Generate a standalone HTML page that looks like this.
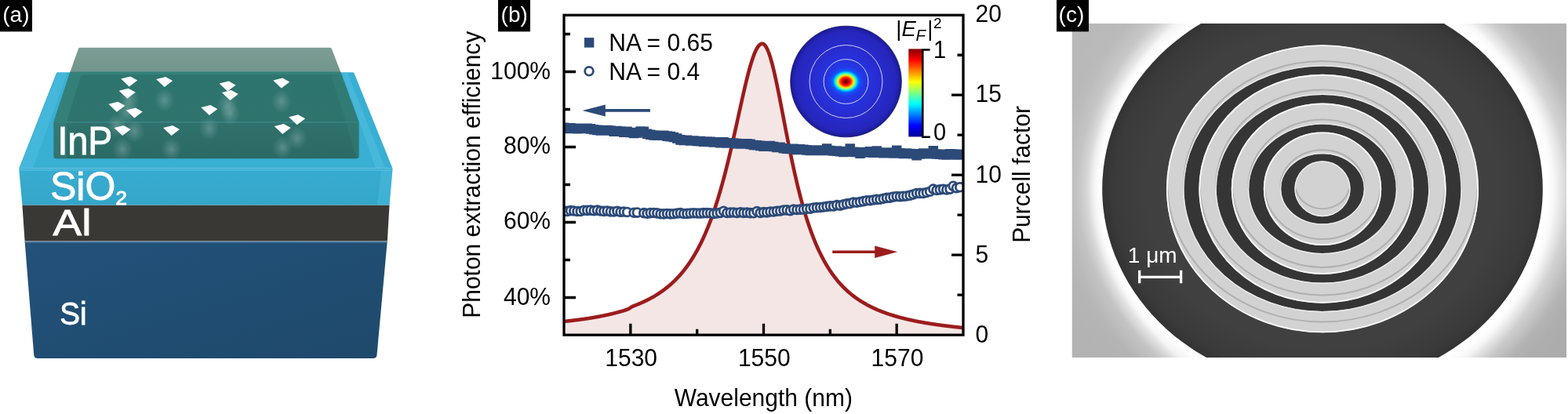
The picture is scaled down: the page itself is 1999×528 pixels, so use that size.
<!DOCTYPE html><html><head><meta charset="utf-8"><title>figure</title><style>
html,body{margin:0;padding:0;background:#fff;width:1999px;height:528px;overflow:hidden}
svg{display:block}
text{font-family:"Liberation Sans",Arial,sans-serif}
</style></head><body>
<svg width="1999" height="528" viewBox="0 0 1999 528">
<defs>
<linearGradient id="jet" x1="0" y1="1" x2="0" y2="0">
<stop offset="0" stop-color="#00008f"/>
<stop offset="0.125" stop-color="#0000ff"/>
<stop offset="0.375" stop-color="#00ffff"/>
<stop offset="0.5" stop-color="#80ff80"/>
<stop offset="0.625" stop-color="#ffff00"/>
<stop offset="0.875" stop-color="#ff0000"/>
<stop offset="1" stop-color="#800000"/>
</linearGradient>
<radialGradient id="spot" gradientUnits="userSpaceOnUse" cx="1078.3" cy="104" r="24" gradientTransform="translate(1078.3 104) scale(1 0.815) translate(-1078.3 -104)">
<stop offset="0" stop-color="#5a0000"/>
<stop offset="0.08" stop-color="#8a0000"/>
<stop offset="0.17" stop-color="#d00000"/>
<stop offset="0.27" stop-color="#ff2000"/>
<stop offset="0.34" stop-color="#ff8000"/>
<stop offset="0.4" stop-color="#ffe000"/>
<stop offset="0.48" stop-color="#90ff70"/>
<stop offset="0.58" stop-color="#00e0ff"/>
<stop offset="0.7" stop-color="#0068ff"/>
<stop offset="0.82" stop-color="#1a4cf4" stop-opacity="0.7"/>
<stop offset="1" stop-color="#2040f0" stop-opacity="0"/>
</radialGradient>
<radialGradient id="fieldbg" gradientUnits="userSpaceOnUse" cx="1078.5" cy="104" r="71">
<stop offset="0" stop-color="#2040f8"/>
<stop offset="0.3" stop-color="#2436e4"/>
<stop offset="0.6" stop-color="#282cd0"/>
<stop offset="0.9" stop-color="#2626bc"/>
<stop offset="1" stop-color="#1a1a94"/>
</radialGradient>
<radialGradient id="halo" gradientUnits="userSpaceOnUse" cx="1686" cy="241" r="360" gradientTransform="translate(1686 241) scale(1 0.9) translate(-1686 -241)">
<stop offset="0.77" stop-color="#ffffff" stop-opacity="1"/>
<stop offset="0.79" stop-color="#ffffff" stop-opacity="0.95"/>
<stop offset="0.83" stop-color="#ffffff" stop-opacity="0.6"/>
<stop offset="0.89" stop-color="#ffffff" stop-opacity="0.22"/>
<stop offset="1" stop-color="#ffffff" stop-opacity="0"/>
</radialGradient>
<filter id="soft" x="-50%" y="-50%" width="200%" height="200%"><feGaussianBlur stdDeviation="4"/></filter>
<filter id="soft1" x="-10%" y="-10%" width="120%" height="120%"><feGaussianBlur stdDeviation="0.6"/></filter>
<radialGradient id="glow" cx="0.5" cy="0.5" r="0.5">
<stop offset="0" stop-color="#ffffff" stop-opacity="0.35"/>
<stop offset="1" stop-color="#ffffff" stop-opacity="0"/>
</radialGradient>
</defs>

<g id="pa">
<defs>
<linearGradient id="gSi" x1="0" y1="0" x2="1" y2="1"><stop offset="0" stop-color="#23517a"/><stop offset="1" stop-color="#1e496b"/></linearGradient>
<linearGradient id="gInPw" x1="0" y1="0" x2="0" y2="1"><stop offset="0" stop-color="#7b9d95"/><stop offset="1" stop-color="#72958c"/></linearGradient>
<linearGradient id="gInPt" x1="0" y1="0" x2="0" y2="1"><stop offset="0" stop-color="#2e756f"/><stop offset="1" stop-color="#2f736d"/></linearGradient>
<linearGradient id="gInPf" x1="0" y1="0" x2="0" y2="1"><stop offset="0" stop-color="#2f716c"/><stop offset="1" stop-color="#2b6a65"/></linearGradient>
<linearGradient id="gSiOf" x1="0" y1="0" x2="0" y2="1"><stop offset="0" stop-color="#38acd0"/><stop offset="1" stop-color="#34a6ca"/></linearGradient>
<radialGradient id="glow2" cx="0.5" cy="0.5" r="0.5"><stop offset="0" stop-color="#ffffff" stop-opacity="0.22"/><stop offset="0.5" stop-color="#ffffff" stop-opacity="0.1"/><stop offset="1" stop-color="#ffffff" stop-opacity="0"/></radialGradient>
</defs>
<path d="M31.6 308 L493.7 308 L480.5 452.5 Q480.1 457.1 475.5 457.1 L48 457.1 Q43.6 457.1 43.2 452.5 Z" fill="url(#gSi)"/>
<path d="M31.7 308.6 H493.6" stroke="#4f81a8" stroke-width="1.6"/>
<path d="M28.4 261.5 L496.5 261.5 L493.8 307.6 L31.6 307.6 Z" fill="#3a3834"/>
<path d="M74 92.2 Q72.3 92.2 71.8 93.6 L24.3 214.5 L500.4 214.5 L451.6 93.6 Q451 92.2 449.4 92.2 Z" fill="#39afd3"/>
<path d="M73 93 L86 93 L42 214.5 L25.5 214.5 Z" fill="#55c2e4" opacity="0.45"/>
<path d="M436 93 L443 93 L491 214.5 L479 214.5 Z" fill="#5cc6e6" opacity="0.4"/>
<path d="M24.3 214.5 L500.4 214.5 L500.4 216.5 L496.5 261.5 L28.4 261.5 L24.3 216.5 Z" fill="url(#gSiOf)"/>
<path d="M25 216.8 H500" stroke="#5dc6e6" stroke-width="1.3" opacity="0.8"/>
<path d="M486 216.5 L500.4 216.5 L496.5 261.5 L481 261.5 Z" fill="#52c0e2" opacity="0.4"/>
<path d="M101.8 60.8 L420.8 60.8 Q422.3 60.8 422.9 62.2 L434 91.3 L89.6 91.3 L99.9 62.2 Q100.4 60.8 101.8 60.8 Z" fill="url(#gInPw)"/>
<path d="M89.6 91.3 L434 91.3 L457.6 155.6 L68.4 155.6 Z" fill="url(#gInPt)"/>
<path d="M89.6 91.3 L434 91.3 L435.6 95.3 L110 95.3 Q103.5 95.3 102.6 98.5 L85 155.6 L68.4 155.6 Z" fill="#3b8a84" opacity="0.55"/>
<path d="M422 96 L435.6 95.3 L457.6 155.6 L441.2 155.6 Z" fill="#3b8a84" opacity="0.3"/>
<path d="M68.4 155.6 L457.6 155.6 L457.6 199 Q457.6 202.3 454.3 202.3 L71.7 202.3 Q68.4 202.3 68.4 199 Z" fill="url(#gInPf)"/>
<path d="M68.8 156.2 H457.2" stroke="#4b9790" stroke-width="1.1" opacity="0.45"/>
<path d="M68.4 156.8 L85 156.8 L85 202.3 L71.7 202.3 Q68.4 202.3 68.4 199 Z" fill="#3b8a84" opacity="0.35"/>
<path d="M441.2 156.8 L457.6 156.8 L457.6 199 Q457.6 202.3 454.3 202.3 L454.3 202.3 Z" fill="#3b8a84" opacity="0.25"/>
<ellipse cx="164.7" cy="127.6" rx="13" ry="15" fill="url(#glow2)"/>
<ellipse cx="209.6" cy="127.9" rx="13" ry="15" fill="url(#glow2)"/>
<ellipse cx="162.2" cy="142.7" rx="13" ry="15" fill="url(#glow2)"/>
<ellipse cx="148.9" cy="159.8" rx="13" ry="15" fill="url(#glow2)"/>
<ellipse cx="171.3" cy="167.4" rx="13" ry="15" fill="url(#glow2)"/>
<ellipse cx="290.1" cy="133.6" rx="13" ry="15" fill="url(#glow2)"/>
<ellipse cx="293.3" cy="145" rx="13" ry="15" fill="url(#glow2)"/>
<ellipse cx="266.8" cy="164" rx="13" ry="15" fill="url(#glow2)"/>
<ellipse cx="156.1" cy="190.1" rx="13" ry="15" fill="url(#glow2)"/>
<ellipse cx="218.5" cy="190.1" rx="13" ry="15" fill="url(#glow2)"/>
<ellipse cx="358.7" cy="129.4" rx="13" ry="15" fill="url(#glow2)"/>
<ellipse cx="378.6" cy="176.2" rx="13" ry="15" fill="url(#glow2)"/>
<ellipse cx="360.2" cy="188.1" rx="13" ry="15" fill="url(#glow2)"/>
<path d="M154.2 100.6 L166.2 97.6 L175.2 102.6 L164.7 110.6 Z" fill="#fff"/>
<path d="M199.1 100.9 L211.1 97.9 L220.1 102.9 L209.6 110.9 Z" fill="#fff"/>
<path d="M151.7 115.7 L163.7 112.7 L172.7 117.7 L162.2 125.7 Z" fill="#fff"/>
<path d="M138.4 132.8 L150.4 129.8 L159.4 134.8 L148.9 142.8 Z" fill="#fff"/>
<path d="M160.8 140.4 L172.8 137.4 L181.8 142.4 L171.3 150.4 Z" fill="#fff"/>
<path d="M279.6 106.6 L291.6 103.6 L300.6 108.6 L290.1 116.6 Z" fill="#fff"/>
<path d="M282.8 118 L294.8 115 L303.8 120 L293.3 128 Z" fill="#fff"/>
<path d="M256.3 137 L268.3 134 L277.3 139 L266.8 147 Z" fill="#fff"/>
<path d="M145.6 163.1 L157.6 160.1 L166.6 165.1 L156.1 173.1 Z" fill="#fff"/>
<path d="M208 163.1 L220 160.1 L229 165.1 L218.5 173.1 Z" fill="#fff"/>
<path d="M348.2 102.4 L360.2 99.4 L369.2 104.4 L358.7 112.4 Z" fill="#fff"/>
<path d="M368.1 149.2 L380.1 146.2 L389.1 151.2 L378.6 159.2 Z" fill="#fff"/>
<path d="M349.7 161.1 L361.7 158.1 L370.7 163.1 L360.2 171.1 Z" fill="#fff"/>
<g fill="#fff" stroke="#fff" stroke-width="0.9">
<text transform="translate(73.6 197.3) scale(0.93 1)" font-size="50">InP</text>
<text transform="translate(64 254.5) scale(1.0 1)" font-size="50">SiO</text>
<text transform="translate(147.6 261.4) scale(1.08 1)" font-size="24">2</text>
<text transform="translate(67.6 300) scale(1.17 1)" font-size="47">Al</text>
<text transform="translate(76.2 413.6) scale(0.93 1)" font-size="41.5">Si</text>
</g>
<rect x="0" y="0" width="41" height="40.3" fill="#000"/>
<text x="3.3" y="28" font-size="28" fill="#fff">(a)</text>
</g>
<g id="pb">
<clipPath id="plotclip"><rect x="719" y="19.3" width="509" height="407.7"/></clipPath>
<g clip-path="url(#plotclip)">
<path d="M719 409.97 L719.42 409.92 L719.85 409.88 L720.27 409.84 L720.7 409.79 L721.12 409.75 L721.54 409.7 L721.97 409.66 L722.39 409.61 L722.82 409.57 L723.24 409.52 L723.67 409.47 L724.09 409.43 L724.51 409.38 L724.94 409.33 L725.36 409.29 L725.79 409.24 L726.21 409.19 L726.64 409.14 L727.06 409.1 L727.48 409.05 L727.91 409 L728.33 408.95 L728.76 408.9 L729.18 408.85 L729.6 408.8 L730.03 408.75 L730.45 408.7 L730.88 408.65 L731.3 408.6 L731.73 408.55 L732.15 408.5 L732.57 408.44 L733 408.39 L733.42 408.34 L733.85 408.29 L734.27 408.23 L734.69 408.18 L735.12 408.13 L735.54 408.07 L735.97 408.02 L736.39 407.96 L736.81 407.91 L737.24 407.85 L737.66 407.8 L738.09 407.74 L738.51 407.69 L738.94 407.63 L739.36 407.57 L739.78 407.52 L740.21 407.46 L740.63 407.4 L741.06 407.34 L741.48 407.28 L741.91 407.23 L742.33 407.17 L742.75 407.11 L743.18 407.05 L743.6 406.99 L744.03 406.93 L744.45 406.87 L744.87 406.8 L745.3 406.74 L745.72 406.68 L746.15 406.62 L746.57 406.56 L746.99 406.49 L747.42 406.43 L747.84 406.37 L748.27 406.3 L748.69 406.24 L749.12 406.17 L749.54 406.11 L749.96 406.04 L750.39 405.98 L750.81 405.91 L751.24 405.84 L751.66 405.78 L752.09 405.71 L752.51 405.64 L752.93 405.57 L753.36 405.5 L753.78 405.43 L754.21 405.36 L754.63 405.29 L755.05 405.22 L755.48 405.15 L755.9 405.08 L756.33 405.01 L756.75 404.94 L757.17 404.87 L757.6 404.79 L758.02 404.72 L758.45 404.64 L758.87 404.57 L759.3 404.5 L759.72 404.42 L760.14 404.34 L760.57 404.27 L760.99 404.19 L761.42 404.12 L761.84 404.04 L762.26 403.96 L762.69 403.88 L763.11 403.8 L763.54 403.72 L763.96 403.64 L764.39 403.56 L764.81 403.48 L765.23 403.4 L765.66 403.32 L766.08 403.24 L766.51 403.15 L766.93 403.07 L767.36 402.99 L767.78 402.9 L768.2 402.82 L768.63 402.73 L769.05 402.65 L769.48 402.56 L769.9 402.47 L770.32 402.38 L770.75 402.3 L771.17 402.21 L771.6 402.12 L772.02 402.03 L772.44 401.94 L772.87 401.85 L773.29 401.76 L773.72 401.66 L774.14 401.57 L774.57 401.48 L774.99 401.38 L775.41 401.29 L775.84 401.19 L776.26 401.1 L776.69 401 L777.11 400.91 L777.54 400.81 L777.96 400.71 L778.38 400.61 L778.81 400.51 L779.23 400.41 L779.66 400.31 L780.08 400.21 L780.5 400.11 L780.93 400.01 L781.35 399.9 L781.78 399.8 L782.2 399.69 L782.62 399.59 L783.05 399.48 L783.47 399.38 L783.9 399.27 L784.32 399.16 L784.75 399.05 L785.17 398.94 L785.59 398.83 L786.02 398.72 L786.44 398.61 L786.87 398.5 L787.29 398.39 L787.71 398.27 L788.14 398.16 L788.56 398.04 L788.99 397.93 L789.41 397.81 L789.84 397.69 L790.26 397.57 L790.68 397.45 L791.11 397.33 L791.53 397.21 L791.96 397.09 L792.38 396.97 L792.81 396.85 L793.23 396.72 L793.65 396.6 L794.08 396.47 L794.5 396.34 L794.93 396.22 L795.35 396.09 L795.77 395.96 L796.2 395.82 L796.62 395.69 L797.05 395.56 L797.47 395.42 L797.89 395.28 L798.32 395.14 L798.74 394.99 L799.17 394.84 L799.59 394.68 L800.02 394.51 L800.44 394.33 L800.86 394.14 L801.29 393.93 L801.71 393.7 L802.14 393.45 L802.56 393.18 L802.99 392.9 L803.41 392.61 L803.83 392.32 L804.26 392.04 L804.68 391.77 L805.11 391.52 L805.53 391.28 L805.95 391.06 L806.38 390.85 L806.8 390.66 L807.23 390.47 L807.65 390.29 L808.08 390.12 L808.5 389.95 L808.92 389.78 L809.35 389.61 L809.77 389.44 L810.2 389.28 L810.62 389.11 L811.04 388.94 L811.47 388.77 L811.89 388.61 L812.32 388.44 L812.74 388.26 L813.16 388.09 L813.59 387.92 L814.01 387.74 L814.44 387.57 L814.86 387.39 L815.29 387.21 L815.71 387.03 L816.13 386.85 L816.56 386.67 L816.98 386.49 L817.41 386.3 L817.83 386.12 L818.26 385.93 L818.68 385.74 L819.1 385.55 L819.53 385.36 L819.95 385.17 L820.38 384.97 L820.8 384.78 L821.22 384.58 L821.65 384.38 L822.07 384.18 L822.5 383.98 L822.92 383.78 L823.34 383.57 L823.77 383.36 L824.19 383.16 L824.62 382.95 L825.04 382.74 L825.47 382.52 L825.89 382.31 L826.31 382.09 L826.74 381.87 L827.16 381.66 L827.59 381.43 L828.01 381.21 L828.44 380.99 L828.86 380.76 L829.28 380.53 L829.71 380.3 L830.13 380.07 L830.56 379.84 L830.98 379.6 L831.4 379.37 L831.83 379.13 L832.25 378.89 L832.68 378.65 L833.1 378.4 L833.52 378.16 L833.95 377.91 L834.37 377.66 L834.8 377.41 L835.22 377.15 L835.65 376.9 L836.07 376.64 L836.49 376.38 L836.92 376.11 L837.34 375.85 L837.77 375.58 L838.19 375.32 L838.61 375.04 L839.04 374.77 L839.46 374.5 L839.89 374.22 L840.31 373.94 L840.74 373.66 L841.16 373.37 L841.58 373.09 L842.01 372.8 L842.43 372.51 L842.86 372.21 L843.28 371.92 L843.71 371.62 L844.13 371.32 L844.55 371.02 L844.98 370.71 L845.4 370.4 L845.83 370.09 L846.25 369.78 L846.67 369.46 L847.1 369.14 L847.52 368.82 L847.95 368.5 L848.37 368.17 L848.79 367.84 L849.22 367.51 L849.64 367.18 L850.07 366.84 L850.49 366.5 L850.92 366.15 L851.34 365.81 L851.76 365.46 L852.19 365.11 L852.61 364.75 L853.04 364.39 L853.46 364.03 L853.89 363.67 L854.31 363.3 L854.73 362.93 L855.16 362.56 L855.58 362.18 L856.01 361.8 L856.43 361.41 L856.85 361.03 L857.28 360.64 L857.7 360.24 L858.13 359.85 L858.55 359.45 L858.98 359.04 L859.4 358.63 L859.82 358.22 L860.25 357.81 L860.67 357.39 L861.1 356.97 L861.52 356.54 L861.94 356.11 L862.37 355.68 L862.79 355.24 L863.22 354.8 L863.64 354.36 L864.06 353.91 L864.49 353.45 L864.91 353 L865.34 352.54 L865.76 352.07 L866.19 351.6 L866.61 351.13 L867.03 350.65 L867.46 350.17 L867.88 349.68 L868.31 349.19 L868.73 348.7 L869.16 348.2 L869.58 347.69 L870 347.18 L870.43 346.67 L870.85 346.15 L871.28 345.63 L871.7 345.1 L872.12 344.57 L872.55 344.03 L872.97 343.49 L873.4 342.94 L873.82 342.39 L874.24 341.83 L874.67 341.27 L875.09 340.7 L875.52 340.12 L875.94 339.55 L876.37 338.96 L876.79 338.37 L877.21 337.78 L877.64 337.18 L878.06 336.57 L878.49 335.96 L878.91 335.34 L879.34 334.72 L879.76 334.09 L880.18 333.45 L880.61 332.81 L881.03 332.17 L881.46 331.51 L881.88 330.85 L882.3 330.19 L882.73 329.52 L883.15 328.84 L883.58 328.15 L884 327.46 L884.42 326.76 L884.85 326.06 L885.27 325.35 L885.7 324.63 L886.12 323.91 L886.55 323.18 L886.97 322.44 L887.39 321.69 L887.82 320.94 L888.24 320.18 L888.67 319.41 L889.09 318.64 L889.51 317.86 L889.94 317.07 L890.36 316.27 L890.79 315.47 L891.21 314.65 L891.64 313.83 L892.06 313.01 L892.48 312.17 L892.91 311.33 L893.33 310.48 L893.76 309.62 L894.18 308.75 L894.61 307.87 L895.03 306.99 L895.45 306.09 L895.88 305.19 L896.3 304.28 L896.73 303.36 L897.15 302.43 L897.57 301.5 L898 300.55 L898.42 299.59 L898.85 298.63 L899.27 297.66 L899.69 296.67 L900.12 295.68 L900.54 294.68 L900.97 293.67 L901.39 292.65 L901.82 291.62 L902.24 290.58 L902.66 289.53 L903.09 288.47 L903.51 287.4 L903.94 286.32 L904.36 285.23 L904.79 284.13 L905.21 283.02 L905.63 281.89 L906.06 280.76 L906.48 279.62 L906.91 278.47 L907.33 277.3 L907.75 276.13 L908.18 274.94 L908.6 273.75 L909.03 272.54 L909.45 271.32 L909.88 270.09 L910.3 268.85 L910.72 267.6 L911.15 266.34 L911.57 265.06 L912 263.78 L912.42 262.48 L912.84 261.17 L913.27 259.85 L913.69 258.52 L914.12 257.17 L914.54 255.82 L914.96 254.45 L915.39 253.07 L915.81 251.68 L916.24 250.28 L916.66 248.86 L917.09 247.44 L917.51 246 L917.93 244.55 L918.36 243.08 L918.78 241.61 L919.21 240.12 L919.63 238.62 L920.06 237.11 L920.48 235.59 L920.9 234.06 L921.33 232.51 L921.75 230.95 L922.18 229.38 L922.6 227.8 L923.02 226.21 L923.45 224.6 L923.87 222.98 L924.3 221.35 L924.72 219.71 L925.14 218.06 L925.57 216.4 L925.99 214.72 L926.42 213.04 L926.84 211.34 L927.27 209.63 L927.69 207.91 L928.11 206.18 L928.54 204.44 L928.96 202.69 L929.39 200.93 L929.81 199.16 L930.24 197.38 L930.66 195.59 L931.08 193.78 L931.51 191.98 L931.93 190.16 L932.36 188.33 L932.78 186.49 L933.2 184.65 L933.63 182.8 L934.05 180.94 L934.48 179.07 L934.9 177.19 L935.33 175.31 L935.75 173.42 L936.17 171.53 L936.6 169.63 L937.02 167.73 L937.45 165.82 L937.87 163.9 L938.29 161.98 L938.72 160.06 L939.14 158.14 L939.57 156.21 L939.99 154.28 L940.41 152.35 L940.84 150.41 L941.26 148.48 L941.69 146.55 L942.11 144.61 L942.54 142.68 L942.96 140.75 L943.38 138.82 L943.81 136.9 L944.23 134.98 L944.66 133.06 L945.08 131.15 L945.51 129.24 L945.93 127.34 L946.35 125.45 L946.78 123.56 L947.2 121.68 L947.63 119.81 L948.05 117.96 L948.47 116.11 L948.9 114.27 L949.32 112.45 L949.75 110.64 L950.17 108.85 L950.59 107.07 L951.02 105.3 L951.44 103.55 L951.87 101.82 L952.29 100.11 L952.72 98.42 L953.14 96.74 L953.56 95.09 L953.99 93.46 L954.41 91.86 L954.84 90.27 L955.26 88.72 L955.69 87.18 L956.11 85.68 L956.53 84.2 L956.96 82.75 L957.38 81.33 L957.81 79.93 L958.23 78.57 L958.65 77.24 L959.08 75.95 L959.5 74.69 L959.93 73.46 L960.35 72.26 L960.77 71.11 L961.2 69.99 L961.62 68.9 L962.05 67.86 L962.47 66.85 L962.9 65.88 L963.32 64.96 L963.74 64.07 L964.17 63.23 L964.59 62.43 L965.02 61.67 L965.44 60.96 L965.86 60.28 L966.29 59.66 L966.71 59.08 L967.14 58.54 L967.56 58.05 L967.99 57.61 L968.41 57.21 L968.83 56.86 L969.26 56.55 L969.68 56.3 L970.11 56.09 L970.53 55.93 L970.96 55.81 L971.38 55.75 L971.8 55.73 L972.23 55.77 L972.65 55.87 L973.08 56.03 L973.5 56.26 L973.92 56.54 L974.35 56.89 L974.77 57.3 L975.2 57.77 L975.62 58.3 L976.04 58.89 L976.47 59.53 L976.89 60.24 L977.32 61 L977.74 61.83 L978.17 62.7 L978.59 63.64 L979.01 64.63 L979.44 65.67 L979.86 66.76 L980.29 67.91 L980.71 69.11 L981.14 70.35 L981.56 71.65 L981.98 72.99 L982.41 74.38 L982.83 75.81 L983.26 77.29 L983.68 78.81 L984.1 80.37 L984.53 81.97 L984.95 83.61 L985.38 85.29 L985.8 87 L986.23 88.75 L986.65 90.53 L987.07 92.35 L987.5 94.19 L987.92 96.06 L988.35 97.96 L988.77 99.89 L989.19 101.85 L989.62 103.83 L990.04 105.83 L990.47 107.85 L990.89 109.89 L991.31 111.95 L991.74 114.03 L992.16 116.13 L992.59 118.24 L993.01 120.37 L993.44 122.51 L993.86 124.66 L994.28 126.82 L994.71 128.99 L995.13 131.17 L995.56 133.36 L995.98 135.55 L996.41 137.75 L996.83 139.96 L997.25 142.16 L997.68 144.37 L998.1 146.59 L998.53 148.8 L998.95 151.01 L999.37 153.22 L999.8 155.44 L1000.22 157.64 L1000.65 159.85 L1001.07 162.05 L1001.49 164.25 L1001.92 166.44 L1002.34 168.62 L1002.77 170.8 L1003.19 172.98 L1003.62 175.14 L1004.04 177.3 L1004.46 179.45 L1004.89 181.59 L1005.31 183.72 L1005.74 185.84 L1006.16 187.94 L1006.59 190.04 L1007.01 192.13 L1007.43 194.2 L1007.86 196.27 L1008.28 198.32 L1008.71 200.36 L1009.13 202.38 L1009.55 204.4 L1009.98 206.39 L1010.4 208.38 L1010.83 210.35 L1011.25 212.31 L1011.67 214.25 L1012.1 216.18 L1012.52 218.1 L1012.95 220 L1013.37 221.88 L1013.8 223.75 L1014.22 225.6 L1014.64 227.44 L1015.07 229.27 L1015.49 231.08 L1015.92 232.87 L1016.34 234.65 L1016.76 236.41 L1017.19 238.16 L1017.61 239.89 L1018.04 241.6 L1018.46 243.3 L1018.89 244.99 L1019.31 246.66 L1019.73 248.31 L1020.16 249.95 L1020.58 251.57 L1021.01 253.18 L1021.43 254.77 L1021.86 256.35 L1022.28 257.91 L1022.7 259.46 L1023.13 260.99 L1023.55 262.5 L1023.98 264 L1024.4 265.49 L1024.82 266.96 L1025.25 268.41 L1025.67 269.86 L1026.1 271.28 L1026.52 272.69 L1026.94 274.09 L1027.37 275.48 L1027.79 276.84 L1028.22 278.2 L1028.64 279.54 L1029.07 280.87 L1029.49 282.18 L1029.91 283.48 L1030.34 284.77 L1030.76 286.04 L1031.19 287.3 L1031.61 288.54 L1032.04 289.78 L1032.46 291 L1032.88 292.2 L1033.31 293.4 L1033.73 294.58 L1034.16 295.75 L1034.58 296.9 L1035 298.05 L1035.43 299.18 L1035.85 300.3 L1036.28 301.41 L1036.7 302.5 L1037.12 303.59 L1037.55 304.66 L1037.97 305.72 L1038.4 306.77 L1038.82 307.81 L1039.25 308.84 L1039.67 309.85 L1040.09 310.86 L1040.52 311.86 L1040.94 312.84 L1041.37 313.81 L1041.79 314.78 L1042.21 315.73 L1042.64 316.67 L1043.06 317.61 L1043.49 318.53 L1043.91 319.44 L1044.34 320.35 L1044.76 321.24 L1045.18 322.12 L1045.61 323 L1046.03 323.86 L1046.46 324.72 L1046.88 325.57 L1047.31 326.41 L1047.73 327.24 L1048.15 328.06 L1048.58 328.87 L1049 329.67 L1049.43 330.47 L1049.85 331.25 L1050.27 332.03 L1050.7 332.8 L1051.12 333.56 L1051.55 334.32 L1051.97 335.06 L1052.39 335.8 L1052.82 336.53 L1053.24 337.25 L1053.67 337.97 L1054.09 338.68 L1054.52 339.38 L1054.94 340.07 L1055.36 340.76 L1055.79 341.44 L1056.21 342.11 L1056.64 342.77 L1057.06 343.43 L1057.49 344.08 L1057.91 344.73 L1058.33 345.37 L1058.76 346 L1059.18 346.63 L1059.61 347.24 L1060.03 347.86 L1060.45 348.46 L1060.88 349.06 L1061.3 349.66 L1061.73 350.25 L1062.15 350.83 L1062.58 351.41 L1063 351.98 L1063.42 352.54 L1063.85 353.1 L1064.27 353.65 L1064.7 354.2 L1065.12 354.75 L1065.54 355.28 L1065.97 355.81 L1066.39 356.34 L1066.82 356.86 L1067.24 357.38 L1067.66 357.89 L1068.09 358.4 L1068.51 358.9 L1068.94 359.4 L1069.36 359.89 L1069.79 360.38 L1070.21 360.86 L1070.63 361.34 L1071.06 361.81 L1071.48 362.28 L1071.91 362.74 L1072.33 363.2 L1072.76 363.66 L1073.18 364.11 L1073.6 364.55 L1074.03 365 L1074.45 365.43 L1074.88 365.87 L1075.3 366.3 L1075.72 366.72 L1076.15 367.15 L1076.57 367.56 L1077 367.98 L1077.42 368.39 L1077.84 368.79 L1078.27 369.2 L1078.69 369.59 L1079.12 369.99 L1079.54 370.38 L1079.97 370.77 L1080.39 371.15 L1080.81 371.53 L1081.24 371.91 L1081.66 372.29 L1082.09 372.66 L1082.51 373.02 L1082.94 373.39 L1083.36 373.75 L1083.78 374.1 L1084.21 374.46 L1084.63 374.81 L1085.06 375.16 L1085.48 375.5 L1085.9 375.84 L1086.33 376.18 L1086.75 376.52 L1087.18 376.85 L1087.6 377.18 L1088.03 377.5 L1088.45 377.83 L1088.87 378.15 L1089.3 378.47 L1089.72 378.78 L1090.15 379.1 L1090.57 379.41 L1090.99 379.71 L1091.42 380.02 L1091.84 380.32 L1092.27 380.62 L1092.69 380.92 L1093.11 381.21 L1093.54 381.5 L1093.96 381.79 L1094.39 382.08 L1094.81 382.36 L1095.24 382.64 L1095.66 382.92 L1096.08 383.2 L1096.51 383.47 L1096.93 383.75 L1097.36 384.02 L1097.78 384.29 L1098.21 384.55 L1098.63 384.81 L1099.05 385.08 L1099.48 385.33 L1099.9 385.59 L1100.33 385.85 L1100.75 386.1 L1101.17 386.35 L1101.6 386.6 L1102.02 386.85 L1102.45 387.09 L1102.87 387.33 L1103.29 387.57 L1103.72 387.81 L1104.14 388.05 L1104.57 388.28 L1104.99 388.52 L1105.42 388.75 L1105.84 388.98 L1106.26 389.21 L1106.69 389.43 L1107.11 389.66 L1107.54 389.88 L1107.96 390.1 L1108.39 390.32 L1108.81 390.53 L1109.23 390.75 L1109.66 390.96 L1110.08 391.17 L1110.51 391.38 L1110.93 391.59 L1111.35 391.8 L1111.78 392.01 L1112.2 392.21 L1112.63 392.41 L1113.05 392.61 L1113.47 392.81 L1113.9 393.01 L1114.32 393.21 L1114.75 393.4 L1115.17 393.59 L1115.6 393.78 L1116.02 393.97 L1116.44 394.16 L1116.87 394.35 L1117.29 394.54 L1117.72 394.72 L1118.14 394.9 L1118.56 395.09 L1118.99 395.27 L1119.41 395.45 L1119.84 395.62 L1120.26 395.8 L1120.69 395.98 L1121.11 396.15 L1121.53 396.32 L1121.96 396.49 L1122.38 396.66 L1122.81 396.83 L1123.23 397 L1123.66 397.17 L1124.08 397.33 L1124.5 397.5 L1124.93 397.66 L1125.35 397.82 L1125.78 397.98 L1126.2 398.14 L1126.62 398.3 L1127.05 398.46 L1127.47 398.61 L1127.9 398.77 L1128.32 398.92 L1128.74 399.07 L1129.17 399.23 L1129.59 399.38 L1130.02 399.53 L1130.44 399.68 L1130.87 399.82 L1131.29 399.97 L1131.71 400.11 L1132.14 400.26 L1132.56 400.4 L1132.99 400.55 L1133.41 400.69 L1133.84 400.83 L1134.26 400.97 L1134.68 401.11 L1135.11 401.24 L1135.53 401.38 L1135.96 401.52 L1136.38 401.65 L1136.8 401.78 L1137.23 401.92 L1137.65 402.05 L1138.08 402.18 L1138.5 402.31 L1138.92 402.44 L1139.35 402.57 L1139.77 402.7 L1140.2 402.82 L1140.62 402.95 L1141.05 403.08 L1141.47 403.2 L1141.89 403.32 L1142.32 403.45 L1142.74 403.57 L1143.17 403.69 L1143.59 403.81 L1144.01 403.93 L1144.44 404.05 L1144.86 404.17 L1145.29 404.28 L1145.71 404.4 L1146.14 404.52 L1146.56 404.63 L1146.98 404.75 L1147.41 404.86 L1147.83 404.97 L1148.26 405.09 L1148.68 405.2 L1149.11 405.31 L1149.53 405.42 L1149.95 405.53 L1150.38 405.64 L1150.8 405.74 L1151.23 405.85 L1151.65 405.96 L1152.07 406.06 L1152.5 406.17 L1152.92 406.27 L1153.35 406.38 L1153.77 406.48 L1154.19 406.58 L1154.62 406.69 L1155.04 406.79 L1155.47 406.89 L1155.89 406.99 L1156.32 407.09 L1156.74 407.19 L1157.16 407.29 L1157.59 407.38 L1158.01 407.48 L1158.44 407.58 L1158.86 407.67 L1159.29 407.77 L1159.71 407.86 L1160.13 407.96 L1160.56 408.05 L1160.98 408.14 L1161.41 408.24 L1161.83 408.33 L1162.25 408.42 L1162.68 408.51 L1163.1 408.6 L1163.53 408.69 L1163.95 408.78 L1164.38 408.87 L1164.8 408.96 L1165.22 409.05 L1165.65 409.13 L1166.07 409.22 L1166.5 409.31 L1166.92 409.39 L1167.34 409.48 L1167.77 409.56 L1168.19 409.65 L1168.62 409.73 L1169.04 409.82 L1169.46 409.9 L1169.89 409.98 L1170.31 410.06 L1170.74 410.14 L1171.16 410.23 L1171.59 410.31 L1172.01 410.39 L1172.43 410.47 L1172.86 410.55 L1173.28 410.62 L1173.71 410.7 L1174.13 410.78 L1174.56 410.86 L1174.98 410.93 L1175.4 411.01 L1175.83 411.09 L1176.25 411.16 L1176.68 411.24 L1177.1 411.31 L1177.52 411.39 L1177.95 411.46 L1178.37 411.54 L1178.8 411.61 L1179.22 411.68 L1179.64 411.75 L1180.07 411.83 L1180.49 411.9 L1180.92 411.97 L1181.34 412.04 L1181.77 412.11 L1182.19 412.18 L1182.61 412.25 L1183.04 412.32 L1183.46 412.39 L1183.89 412.46 L1184.31 412.53 L1184.74 412.59 L1185.16 412.66 L1185.58 412.73 L1186.01 412.8 L1186.43 412.86 L1186.86 412.93 L1187.28 412.99 L1187.7 413.06 L1188.13 413.13 L1188.55 413.19 L1188.98 413.25 L1189.4 413.32 L1189.83 413.38 L1190.25 413.45 L1190.67 413.51 L1191.1 413.57 L1191.52 413.63 L1191.95 413.7 L1192.37 413.76 L1192.79 413.82 L1193.22 413.88 L1193.64 413.94 L1194.07 414 L1194.49 414.06 L1194.91 414.12 L1195.34 414.18 L1195.76 414.24 L1196.19 414.3 L1196.61 414.36 L1197.04 414.42 L1197.46 414.48 L1197.88 414.53 L1198.31 414.59 L1198.73 414.65 L1199.16 414.71 L1199.58 414.76 L1200.01 414.82 L1200.43 414.88 L1200.85 414.93 L1201.28 414.99 L1201.7 415.04 L1202.13 415.1 L1202.55 415.15 L1202.97 415.21 L1203.4 415.26 L1203.82 415.31 L1204.25 415.37 L1204.67 415.42 L1205.09 415.48 L1205.52 415.53 L1205.94 415.58 L1206.37 415.63 L1206.79 415.69 L1207.22 415.74 L1207.64 415.79 L1208.06 415.84 L1208.49 415.89 L1208.91 415.94 L1209.34 415.99 L1209.76 416.04 L1210.19 416.09 L1210.61 416.14 L1211.03 416.19 L1211.46 416.24 L1211.88 416.29 L1212.31 416.34 L1212.73 416.39 L1213.15 416.44 L1213.58 416.49 L1214 416.54 L1214.43 416.58 L1214.85 416.63 L1215.28 416.68 L1215.7 416.73 L1216.12 416.77 L1216.55 416.82 L1216.97 416.87 L1217.4 416.91 L1217.82 416.96 L1218.24 417.01 L1218.67 417.05 L1219.09 417.1 L1219.52 417.14 L1219.94 417.19 L1220.36 417.23 L1220.79 417.28 L1221.21 417.32 L1221.64 417.37 L1222.06 417.41 L1222.49 417.45 L1222.91 417.5 L1223.33 417.54 L1223.76 417.58 L1224.18 417.63 L1224.61 417.67 L1225.03 417.71 L1225.46 417.76 L1225.88 417.8 L1226.3 417.84 L1226.73 417.88 L1227.15 417.92 L1227.58 417.97 L1228 418.01 L1228 427 L719 427 Z" fill="#f5e6e6"/>
<path d="M719 409.97 L719.42 409.92 L719.85 409.88 L720.27 409.84 L720.7 409.79 L721.12 409.75 L721.54 409.7 L721.97 409.66 L722.39 409.61 L722.82 409.57 L723.24 409.52 L723.67 409.47 L724.09 409.43 L724.51 409.38 L724.94 409.33 L725.36 409.29 L725.79 409.24 L726.21 409.19 L726.64 409.14 L727.06 409.1 L727.48 409.05 L727.91 409 L728.33 408.95 L728.76 408.9 L729.18 408.85 L729.6 408.8 L730.03 408.75 L730.45 408.7 L730.88 408.65 L731.3 408.6 L731.73 408.55 L732.15 408.5 L732.57 408.44 L733 408.39 L733.42 408.34 L733.85 408.29 L734.27 408.23 L734.69 408.18 L735.12 408.13 L735.54 408.07 L735.97 408.02 L736.39 407.96 L736.81 407.91 L737.24 407.85 L737.66 407.8 L738.09 407.74 L738.51 407.69 L738.94 407.63 L739.36 407.57 L739.78 407.52 L740.21 407.46 L740.63 407.4 L741.06 407.34 L741.48 407.28 L741.91 407.23 L742.33 407.17 L742.75 407.11 L743.18 407.05 L743.6 406.99 L744.03 406.93 L744.45 406.87 L744.87 406.8 L745.3 406.74 L745.72 406.68 L746.15 406.62 L746.57 406.56 L746.99 406.49 L747.42 406.43 L747.84 406.37 L748.27 406.3 L748.69 406.24 L749.12 406.17 L749.54 406.11 L749.96 406.04 L750.39 405.98 L750.81 405.91 L751.24 405.84 L751.66 405.78 L752.09 405.71 L752.51 405.64 L752.93 405.57 L753.36 405.5 L753.78 405.43 L754.21 405.36 L754.63 405.29 L755.05 405.22 L755.48 405.15 L755.9 405.08 L756.33 405.01 L756.75 404.94 L757.17 404.87 L757.6 404.79 L758.02 404.72 L758.45 404.64 L758.87 404.57 L759.3 404.5 L759.72 404.42 L760.14 404.34 L760.57 404.27 L760.99 404.19 L761.42 404.12 L761.84 404.04 L762.26 403.96 L762.69 403.88 L763.11 403.8 L763.54 403.72 L763.96 403.64 L764.39 403.56 L764.81 403.48 L765.23 403.4 L765.66 403.32 L766.08 403.24 L766.51 403.15 L766.93 403.07 L767.36 402.99 L767.78 402.9 L768.2 402.82 L768.63 402.73 L769.05 402.65 L769.48 402.56 L769.9 402.47 L770.32 402.38 L770.75 402.3 L771.17 402.21 L771.6 402.12 L772.02 402.03 L772.44 401.94 L772.87 401.85 L773.29 401.76 L773.72 401.66 L774.14 401.57 L774.57 401.48 L774.99 401.38 L775.41 401.29 L775.84 401.19 L776.26 401.1 L776.69 401 L777.11 400.91 L777.54 400.81 L777.96 400.71 L778.38 400.61 L778.81 400.51 L779.23 400.41 L779.66 400.31 L780.08 400.21 L780.5 400.11 L780.93 400.01 L781.35 399.9 L781.78 399.8 L782.2 399.69 L782.62 399.59 L783.05 399.48 L783.47 399.38 L783.9 399.27 L784.32 399.16 L784.75 399.05 L785.17 398.94 L785.59 398.83 L786.02 398.72 L786.44 398.61 L786.87 398.5 L787.29 398.39 L787.71 398.27 L788.14 398.16 L788.56 398.04 L788.99 397.93 L789.41 397.81 L789.84 397.69 L790.26 397.57 L790.68 397.45 L791.11 397.33 L791.53 397.21 L791.96 397.09 L792.38 396.97 L792.81 396.85 L793.23 396.72 L793.65 396.6 L794.08 396.47 L794.5 396.34 L794.93 396.22 L795.35 396.09 L795.77 395.96 L796.2 395.82 L796.62 395.69 L797.05 395.56 L797.47 395.42 L797.89 395.28 L798.32 395.14 L798.74 394.99 L799.17 394.84 L799.59 394.68 L800.02 394.51 L800.44 394.33 L800.86 394.14 L801.29 393.93 L801.71 393.7 L802.14 393.45 L802.56 393.18 L802.99 392.9 L803.41 392.61 L803.83 392.32 L804.26 392.04 L804.68 391.77 L805.11 391.52 L805.53 391.28 L805.95 391.06 L806.38 390.85 L806.8 390.66 L807.23 390.47 L807.65 390.29 L808.08 390.12 L808.5 389.95 L808.92 389.78 L809.35 389.61 L809.77 389.44 L810.2 389.28 L810.62 389.11 L811.04 388.94 L811.47 388.77 L811.89 388.61 L812.32 388.44 L812.74 388.26 L813.16 388.09 L813.59 387.92 L814.01 387.74 L814.44 387.57 L814.86 387.39 L815.29 387.21 L815.71 387.03 L816.13 386.85 L816.56 386.67 L816.98 386.49 L817.41 386.3 L817.83 386.12 L818.26 385.93 L818.68 385.74 L819.1 385.55 L819.53 385.36 L819.95 385.17 L820.38 384.97 L820.8 384.78 L821.22 384.58 L821.65 384.38 L822.07 384.18 L822.5 383.98 L822.92 383.78 L823.34 383.57 L823.77 383.36 L824.19 383.16 L824.62 382.95 L825.04 382.74 L825.47 382.52 L825.89 382.31 L826.31 382.09 L826.74 381.87 L827.16 381.66 L827.59 381.43 L828.01 381.21 L828.44 380.99 L828.86 380.76 L829.28 380.53 L829.71 380.3 L830.13 380.07 L830.56 379.84 L830.98 379.6 L831.4 379.37 L831.83 379.13 L832.25 378.89 L832.68 378.65 L833.1 378.4 L833.52 378.16 L833.95 377.91 L834.37 377.66 L834.8 377.41 L835.22 377.15 L835.65 376.9 L836.07 376.64 L836.49 376.38 L836.92 376.11 L837.34 375.85 L837.77 375.58 L838.19 375.32 L838.61 375.04 L839.04 374.77 L839.46 374.5 L839.89 374.22 L840.31 373.94 L840.74 373.66 L841.16 373.37 L841.58 373.09 L842.01 372.8 L842.43 372.51 L842.86 372.21 L843.28 371.92 L843.71 371.62 L844.13 371.32 L844.55 371.02 L844.98 370.71 L845.4 370.4 L845.83 370.09 L846.25 369.78 L846.67 369.46 L847.1 369.14 L847.52 368.82 L847.95 368.5 L848.37 368.17 L848.79 367.84 L849.22 367.51 L849.64 367.18 L850.07 366.84 L850.49 366.5 L850.92 366.15 L851.34 365.81 L851.76 365.46 L852.19 365.11 L852.61 364.75 L853.04 364.39 L853.46 364.03 L853.89 363.67 L854.31 363.3 L854.73 362.93 L855.16 362.56 L855.58 362.18 L856.01 361.8 L856.43 361.41 L856.85 361.03 L857.28 360.64 L857.7 360.24 L858.13 359.85 L858.55 359.45 L858.98 359.04 L859.4 358.63 L859.82 358.22 L860.25 357.81 L860.67 357.39 L861.1 356.97 L861.52 356.54 L861.94 356.11 L862.37 355.68 L862.79 355.24 L863.22 354.8 L863.64 354.36 L864.06 353.91 L864.49 353.45 L864.91 353 L865.34 352.54 L865.76 352.07 L866.19 351.6 L866.61 351.13 L867.03 350.65 L867.46 350.17 L867.88 349.68 L868.31 349.19 L868.73 348.7 L869.16 348.2 L869.58 347.69 L870 347.18 L870.43 346.67 L870.85 346.15 L871.28 345.63 L871.7 345.1 L872.12 344.57 L872.55 344.03 L872.97 343.49 L873.4 342.94 L873.82 342.39 L874.24 341.83 L874.67 341.27 L875.09 340.7 L875.52 340.12 L875.94 339.55 L876.37 338.96 L876.79 338.37 L877.21 337.78 L877.64 337.18 L878.06 336.57 L878.49 335.96 L878.91 335.34 L879.34 334.72 L879.76 334.09 L880.18 333.45 L880.61 332.81 L881.03 332.17 L881.46 331.51 L881.88 330.85 L882.3 330.19 L882.73 329.52 L883.15 328.84 L883.58 328.15 L884 327.46 L884.42 326.76 L884.85 326.06 L885.27 325.35 L885.7 324.63 L886.12 323.91 L886.55 323.18 L886.97 322.44 L887.39 321.69 L887.82 320.94 L888.24 320.18 L888.67 319.41 L889.09 318.64 L889.51 317.86 L889.94 317.07 L890.36 316.27 L890.79 315.47 L891.21 314.65 L891.64 313.83 L892.06 313.01 L892.48 312.17 L892.91 311.33 L893.33 310.48 L893.76 309.62 L894.18 308.75 L894.61 307.87 L895.03 306.99 L895.45 306.09 L895.88 305.19 L896.3 304.28 L896.73 303.36 L897.15 302.43 L897.57 301.5 L898 300.55 L898.42 299.59 L898.85 298.63 L899.27 297.66 L899.69 296.67 L900.12 295.68 L900.54 294.68 L900.97 293.67 L901.39 292.65 L901.82 291.62 L902.24 290.58 L902.66 289.53 L903.09 288.47 L903.51 287.4 L903.94 286.32 L904.36 285.23 L904.79 284.13 L905.21 283.02 L905.63 281.89 L906.06 280.76 L906.48 279.62 L906.91 278.47 L907.33 277.3 L907.75 276.13 L908.18 274.94 L908.6 273.75 L909.03 272.54 L909.45 271.32 L909.88 270.09 L910.3 268.85 L910.72 267.6 L911.15 266.34 L911.57 265.06 L912 263.78 L912.42 262.48 L912.84 261.17 L913.27 259.85 L913.69 258.52 L914.12 257.17 L914.54 255.82 L914.96 254.45 L915.39 253.07 L915.81 251.68 L916.24 250.28 L916.66 248.86 L917.09 247.44 L917.51 246 L917.93 244.55 L918.36 243.08 L918.78 241.61 L919.21 240.12 L919.63 238.62 L920.06 237.11 L920.48 235.59 L920.9 234.06 L921.33 232.51 L921.75 230.95 L922.18 229.38 L922.6 227.8 L923.02 226.21 L923.45 224.6 L923.87 222.98 L924.3 221.35 L924.72 219.71 L925.14 218.06 L925.57 216.4 L925.99 214.72 L926.42 213.04 L926.84 211.34 L927.27 209.63 L927.69 207.91 L928.11 206.18 L928.54 204.44 L928.96 202.69 L929.39 200.93 L929.81 199.16 L930.24 197.38 L930.66 195.59 L931.08 193.78 L931.51 191.98 L931.93 190.16 L932.36 188.33 L932.78 186.49 L933.2 184.65 L933.63 182.8 L934.05 180.94 L934.48 179.07 L934.9 177.19 L935.33 175.31 L935.75 173.42 L936.17 171.53 L936.6 169.63 L937.02 167.73 L937.45 165.82 L937.87 163.9 L938.29 161.98 L938.72 160.06 L939.14 158.14 L939.57 156.21 L939.99 154.28 L940.41 152.35 L940.84 150.41 L941.26 148.48 L941.69 146.55 L942.11 144.61 L942.54 142.68 L942.96 140.75 L943.38 138.82 L943.81 136.9 L944.23 134.98 L944.66 133.06 L945.08 131.15 L945.51 129.24 L945.93 127.34 L946.35 125.45 L946.78 123.56 L947.2 121.68 L947.63 119.81 L948.05 117.96 L948.47 116.11 L948.9 114.27 L949.32 112.45 L949.75 110.64 L950.17 108.85 L950.59 107.07 L951.02 105.3 L951.44 103.55 L951.87 101.82 L952.29 100.11 L952.72 98.42 L953.14 96.74 L953.56 95.09 L953.99 93.46 L954.41 91.86 L954.84 90.27 L955.26 88.72 L955.69 87.18 L956.11 85.68 L956.53 84.2 L956.96 82.75 L957.38 81.33 L957.81 79.93 L958.23 78.57 L958.65 77.24 L959.08 75.95 L959.5 74.69 L959.93 73.46 L960.35 72.26 L960.77 71.11 L961.2 69.99 L961.62 68.9 L962.05 67.86 L962.47 66.85 L962.9 65.88 L963.32 64.96 L963.74 64.07 L964.17 63.23 L964.59 62.43 L965.02 61.67 L965.44 60.96 L965.86 60.28 L966.29 59.66 L966.71 59.08 L967.14 58.54 L967.56 58.05 L967.99 57.61 L968.41 57.21 L968.83 56.86 L969.26 56.55 L969.68 56.3 L970.11 56.09 L970.53 55.93 L970.96 55.81 L971.38 55.75 L971.8 55.73 L972.23 55.77 L972.65 55.87 L973.08 56.03 L973.5 56.26 L973.92 56.54 L974.35 56.89 L974.77 57.3 L975.2 57.77 L975.62 58.3 L976.04 58.89 L976.47 59.53 L976.89 60.24 L977.32 61 L977.74 61.83 L978.17 62.7 L978.59 63.64 L979.01 64.63 L979.44 65.67 L979.86 66.76 L980.29 67.91 L980.71 69.11 L981.14 70.35 L981.56 71.65 L981.98 72.99 L982.41 74.38 L982.83 75.81 L983.26 77.29 L983.68 78.81 L984.1 80.37 L984.53 81.97 L984.95 83.61 L985.38 85.29 L985.8 87 L986.23 88.75 L986.65 90.53 L987.07 92.35 L987.5 94.19 L987.92 96.06 L988.35 97.96 L988.77 99.89 L989.19 101.85 L989.62 103.83 L990.04 105.83 L990.47 107.85 L990.89 109.89 L991.31 111.95 L991.74 114.03 L992.16 116.13 L992.59 118.24 L993.01 120.37 L993.44 122.51 L993.86 124.66 L994.28 126.82 L994.71 128.99 L995.13 131.17 L995.56 133.36 L995.98 135.55 L996.41 137.75 L996.83 139.96 L997.25 142.16 L997.68 144.37 L998.1 146.59 L998.53 148.8 L998.95 151.01 L999.37 153.22 L999.8 155.44 L1000.22 157.64 L1000.65 159.85 L1001.07 162.05 L1001.49 164.25 L1001.92 166.44 L1002.34 168.62 L1002.77 170.8 L1003.19 172.98 L1003.62 175.14 L1004.04 177.3 L1004.46 179.45 L1004.89 181.59 L1005.31 183.72 L1005.74 185.84 L1006.16 187.94 L1006.59 190.04 L1007.01 192.13 L1007.43 194.2 L1007.86 196.27 L1008.28 198.32 L1008.71 200.36 L1009.13 202.38 L1009.55 204.4 L1009.98 206.39 L1010.4 208.38 L1010.83 210.35 L1011.25 212.31 L1011.67 214.25 L1012.1 216.18 L1012.52 218.1 L1012.95 220 L1013.37 221.88 L1013.8 223.75 L1014.22 225.6 L1014.64 227.44 L1015.07 229.27 L1015.49 231.08 L1015.92 232.87 L1016.34 234.65 L1016.76 236.41 L1017.19 238.16 L1017.61 239.89 L1018.04 241.6 L1018.46 243.3 L1018.89 244.99 L1019.31 246.66 L1019.73 248.31 L1020.16 249.95 L1020.58 251.57 L1021.01 253.18 L1021.43 254.77 L1021.86 256.35 L1022.28 257.91 L1022.7 259.46 L1023.13 260.99 L1023.55 262.5 L1023.98 264 L1024.4 265.49 L1024.82 266.96 L1025.25 268.41 L1025.67 269.86 L1026.1 271.28 L1026.52 272.69 L1026.94 274.09 L1027.37 275.48 L1027.79 276.84 L1028.22 278.2 L1028.64 279.54 L1029.07 280.87 L1029.49 282.18 L1029.91 283.48 L1030.34 284.77 L1030.76 286.04 L1031.19 287.3 L1031.61 288.54 L1032.04 289.78 L1032.46 291 L1032.88 292.2 L1033.31 293.4 L1033.73 294.58 L1034.16 295.75 L1034.58 296.9 L1035 298.05 L1035.43 299.18 L1035.85 300.3 L1036.28 301.41 L1036.7 302.5 L1037.12 303.59 L1037.55 304.66 L1037.97 305.72 L1038.4 306.77 L1038.82 307.81 L1039.25 308.84 L1039.67 309.85 L1040.09 310.86 L1040.52 311.86 L1040.94 312.84 L1041.37 313.81 L1041.79 314.78 L1042.21 315.73 L1042.64 316.67 L1043.06 317.61 L1043.49 318.53 L1043.91 319.44 L1044.34 320.35 L1044.76 321.24 L1045.18 322.12 L1045.61 323 L1046.03 323.86 L1046.46 324.72 L1046.88 325.57 L1047.31 326.41 L1047.73 327.24 L1048.15 328.06 L1048.58 328.87 L1049 329.67 L1049.43 330.47 L1049.85 331.25 L1050.27 332.03 L1050.7 332.8 L1051.12 333.56 L1051.55 334.32 L1051.97 335.06 L1052.39 335.8 L1052.82 336.53 L1053.24 337.25 L1053.67 337.97 L1054.09 338.68 L1054.52 339.38 L1054.94 340.07 L1055.36 340.76 L1055.79 341.44 L1056.21 342.11 L1056.64 342.77 L1057.06 343.43 L1057.49 344.08 L1057.91 344.73 L1058.33 345.37 L1058.76 346 L1059.18 346.63 L1059.61 347.24 L1060.03 347.86 L1060.45 348.46 L1060.88 349.06 L1061.3 349.66 L1061.73 350.25 L1062.15 350.83 L1062.58 351.41 L1063 351.98 L1063.42 352.54 L1063.85 353.1 L1064.27 353.65 L1064.7 354.2 L1065.12 354.75 L1065.54 355.28 L1065.97 355.81 L1066.39 356.34 L1066.82 356.86 L1067.24 357.38 L1067.66 357.89 L1068.09 358.4 L1068.51 358.9 L1068.94 359.4 L1069.36 359.89 L1069.79 360.38 L1070.21 360.86 L1070.63 361.34 L1071.06 361.81 L1071.48 362.28 L1071.91 362.74 L1072.33 363.2 L1072.76 363.66 L1073.18 364.11 L1073.6 364.55 L1074.03 365 L1074.45 365.43 L1074.88 365.87 L1075.3 366.3 L1075.72 366.72 L1076.15 367.15 L1076.57 367.56 L1077 367.98 L1077.42 368.39 L1077.84 368.79 L1078.27 369.2 L1078.69 369.59 L1079.12 369.99 L1079.54 370.38 L1079.97 370.77 L1080.39 371.15 L1080.81 371.53 L1081.24 371.91 L1081.66 372.29 L1082.09 372.66 L1082.51 373.02 L1082.94 373.39 L1083.36 373.75 L1083.78 374.1 L1084.21 374.46 L1084.63 374.81 L1085.06 375.16 L1085.48 375.5 L1085.9 375.84 L1086.33 376.18 L1086.75 376.52 L1087.18 376.85 L1087.6 377.18 L1088.03 377.5 L1088.45 377.83 L1088.87 378.15 L1089.3 378.47 L1089.72 378.78 L1090.15 379.1 L1090.57 379.41 L1090.99 379.71 L1091.42 380.02 L1091.84 380.32 L1092.27 380.62 L1092.69 380.92 L1093.11 381.21 L1093.54 381.5 L1093.96 381.79 L1094.39 382.08 L1094.81 382.36 L1095.24 382.64 L1095.66 382.92 L1096.08 383.2 L1096.51 383.47 L1096.93 383.75 L1097.36 384.02 L1097.78 384.29 L1098.21 384.55 L1098.63 384.81 L1099.05 385.08 L1099.48 385.33 L1099.9 385.59 L1100.33 385.85 L1100.75 386.1 L1101.17 386.35 L1101.6 386.6 L1102.02 386.85 L1102.45 387.09 L1102.87 387.33 L1103.29 387.57 L1103.72 387.81 L1104.14 388.05 L1104.57 388.28 L1104.99 388.52 L1105.42 388.75 L1105.84 388.98 L1106.26 389.21 L1106.69 389.43 L1107.11 389.66 L1107.54 389.88 L1107.96 390.1 L1108.39 390.32 L1108.81 390.53 L1109.23 390.75 L1109.66 390.96 L1110.08 391.17 L1110.51 391.38 L1110.93 391.59 L1111.35 391.8 L1111.78 392.01 L1112.2 392.21 L1112.63 392.41 L1113.05 392.61 L1113.47 392.81 L1113.9 393.01 L1114.32 393.21 L1114.75 393.4 L1115.17 393.59 L1115.6 393.78 L1116.02 393.97 L1116.44 394.16 L1116.87 394.35 L1117.29 394.54 L1117.72 394.72 L1118.14 394.9 L1118.56 395.09 L1118.99 395.27 L1119.41 395.45 L1119.84 395.62 L1120.26 395.8 L1120.69 395.98 L1121.11 396.15 L1121.53 396.32 L1121.96 396.49 L1122.38 396.66 L1122.81 396.83 L1123.23 397 L1123.66 397.17 L1124.08 397.33 L1124.5 397.5 L1124.93 397.66 L1125.35 397.82 L1125.78 397.98 L1126.2 398.14 L1126.62 398.3 L1127.05 398.46 L1127.47 398.61 L1127.9 398.77 L1128.32 398.92 L1128.74 399.07 L1129.17 399.23 L1129.59 399.38 L1130.02 399.53 L1130.44 399.68 L1130.87 399.82 L1131.29 399.97 L1131.71 400.11 L1132.14 400.26 L1132.56 400.4 L1132.99 400.55 L1133.41 400.69 L1133.84 400.83 L1134.26 400.97 L1134.68 401.11 L1135.11 401.24 L1135.53 401.38 L1135.96 401.52 L1136.38 401.65 L1136.8 401.78 L1137.23 401.92 L1137.65 402.05 L1138.08 402.18 L1138.5 402.31 L1138.92 402.44 L1139.35 402.57 L1139.77 402.7 L1140.2 402.82 L1140.62 402.95 L1141.05 403.08 L1141.47 403.2 L1141.89 403.32 L1142.32 403.45 L1142.74 403.57 L1143.17 403.69 L1143.59 403.81 L1144.01 403.93 L1144.44 404.05 L1144.86 404.17 L1145.29 404.28 L1145.71 404.4 L1146.14 404.52 L1146.56 404.63 L1146.98 404.75 L1147.41 404.86 L1147.83 404.97 L1148.26 405.09 L1148.68 405.2 L1149.11 405.31 L1149.53 405.42 L1149.95 405.53 L1150.38 405.64 L1150.8 405.74 L1151.23 405.85 L1151.65 405.96 L1152.07 406.06 L1152.5 406.17 L1152.92 406.27 L1153.35 406.38 L1153.77 406.48 L1154.19 406.58 L1154.62 406.69 L1155.04 406.79 L1155.47 406.89 L1155.89 406.99 L1156.32 407.09 L1156.74 407.19 L1157.16 407.29 L1157.59 407.38 L1158.01 407.48 L1158.44 407.58 L1158.86 407.67 L1159.29 407.77 L1159.71 407.86 L1160.13 407.96 L1160.56 408.05 L1160.98 408.14 L1161.41 408.24 L1161.83 408.33 L1162.25 408.42 L1162.68 408.51 L1163.1 408.6 L1163.53 408.69 L1163.95 408.78 L1164.38 408.87 L1164.8 408.96 L1165.22 409.05 L1165.65 409.13 L1166.07 409.22 L1166.5 409.31 L1166.92 409.39 L1167.34 409.48 L1167.77 409.56 L1168.19 409.65 L1168.62 409.73 L1169.04 409.82 L1169.46 409.9 L1169.89 409.98 L1170.31 410.06 L1170.74 410.14 L1171.16 410.23 L1171.59 410.31 L1172.01 410.39 L1172.43 410.47 L1172.86 410.55 L1173.28 410.62 L1173.71 410.7 L1174.13 410.78 L1174.56 410.86 L1174.98 410.93 L1175.4 411.01 L1175.83 411.09 L1176.25 411.16 L1176.68 411.24 L1177.1 411.31 L1177.52 411.39 L1177.95 411.46 L1178.37 411.54 L1178.8 411.61 L1179.22 411.68 L1179.64 411.75 L1180.07 411.83 L1180.49 411.9 L1180.92 411.97 L1181.34 412.04 L1181.77 412.11 L1182.19 412.18 L1182.61 412.25 L1183.04 412.32 L1183.46 412.39 L1183.89 412.46 L1184.31 412.53 L1184.74 412.59 L1185.16 412.66 L1185.58 412.73 L1186.01 412.8 L1186.43 412.86 L1186.86 412.93 L1187.28 412.99 L1187.7 413.06 L1188.13 413.13 L1188.55 413.19 L1188.98 413.25 L1189.4 413.32 L1189.83 413.38 L1190.25 413.45 L1190.67 413.51 L1191.1 413.57 L1191.52 413.63 L1191.95 413.7 L1192.37 413.76 L1192.79 413.82 L1193.22 413.88 L1193.64 413.94 L1194.07 414 L1194.49 414.06 L1194.91 414.12 L1195.34 414.18 L1195.76 414.24 L1196.19 414.3 L1196.61 414.36 L1197.04 414.42 L1197.46 414.48 L1197.88 414.53 L1198.31 414.59 L1198.73 414.65 L1199.16 414.71 L1199.58 414.76 L1200.01 414.82 L1200.43 414.88 L1200.85 414.93 L1201.28 414.99 L1201.7 415.04 L1202.13 415.1 L1202.55 415.15 L1202.97 415.21 L1203.4 415.26 L1203.82 415.31 L1204.25 415.37 L1204.67 415.42 L1205.09 415.48 L1205.52 415.53 L1205.94 415.58 L1206.37 415.63 L1206.79 415.69 L1207.22 415.74 L1207.64 415.79 L1208.06 415.84 L1208.49 415.89 L1208.91 415.94 L1209.34 415.99 L1209.76 416.04 L1210.19 416.09 L1210.61 416.14 L1211.03 416.19 L1211.46 416.24 L1211.88 416.29 L1212.31 416.34 L1212.73 416.39 L1213.15 416.44 L1213.58 416.49 L1214 416.54 L1214.43 416.58 L1214.85 416.63 L1215.28 416.68 L1215.7 416.73 L1216.12 416.77 L1216.55 416.82 L1216.97 416.87 L1217.4 416.91 L1217.82 416.96 L1218.24 417.01 L1218.67 417.05 L1219.09 417.1 L1219.52 417.14 L1219.94 417.19 L1220.36 417.23 L1220.79 417.28 L1221.21 417.32 L1221.64 417.37 L1222.06 417.41 L1222.49 417.45 L1222.91 417.5 L1223.33 417.54 L1223.76 417.58 L1224.18 417.63 L1224.61 417.67 L1225.03 417.71 L1225.46 417.76 L1225.88 417.8 L1226.3 417.84 L1226.73 417.88 L1227.15 417.92 L1227.58 417.97 L1228 418.01" fill="none" stroke="#9c1c1c" stroke-width="4.6" stroke-linejoin="round"/>
<g fill="#fff" stroke="#2c4a78" stroke-width="2.8">
<circle cx="719" cy="269.28" r="5.4"/>
<circle cx="723.24" cy="269.41" r="5.4"/>
<circle cx="727.48" cy="268.64" r="5.4"/>
<circle cx="731.73" cy="268.93" r="5.4"/>
<circle cx="735.97" cy="269.49" r="5.4"/>
<circle cx="740.21" cy="269.46" r="5.4"/>
<circle cx="744.45" cy="268.21" r="5.4"/>
<circle cx="748.69" cy="268.33" r="5.4"/>
<circle cx="752.93" cy="268.08" r="5.4"/>
<circle cx="757.17" cy="268.71" r="5.4"/>
<circle cx="761.42" cy="268.12" r="5.4"/>
<circle cx="765.66" cy="268.93" r="5.4"/>
<circle cx="769.9" cy="269.4" r="5.4"/>
<circle cx="774.14" cy="269" r="5.4"/>
<circle cx="778.38" cy="269.86" r="5.4"/>
<circle cx="782.62" cy="269.94" r="5.4"/>
<circle cx="786.87" cy="269.26" r="5.4"/>
<circle cx="791.11" cy="270.32" r="5.4"/>
<circle cx="795.35" cy="270.03" r="5.4"/>
<circle cx="799.59" cy="270.46" r="5.4"/>
<circle cx="808.08" cy="271.31" r="5.4"/>
<circle cx="812.32" cy="271.11" r="5.4"/>
<circle cx="820.8" cy="271.67" r="5.4"/>
<circle cx="825.04" cy="272.2" r="5.4"/>
<circle cx="829.28" cy="271.58" r="5.4"/>
<circle cx="833.52" cy="271.53" r="5.4"/>
<circle cx="837.77" cy="271.86" r="5.4"/>
<circle cx="842.01" cy="272.78" r="5.4"/>
<circle cx="846.25" cy="272.89" r="5.4"/>
<circle cx="850.49" cy="272.45" r="5.4"/>
<circle cx="854.73" cy="272.86" r="5.4"/>
<circle cx="858.98" cy="272.8" r="5.4"/>
<circle cx="863.22" cy="272.07" r="5.4"/>
<circle cx="867.46" cy="271.63" r="5.4"/>
<circle cx="871.7" cy="272.54" r="5.4"/>
<circle cx="875.94" cy="272.39" r="5.4"/>
<circle cx="880.18" cy="272.06" r="5.4"/>
<circle cx="884.42" cy="271.8" r="5.4"/>
<circle cx="888.67" cy="272.04" r="5.4"/>
<circle cx="892.91" cy="272.07" r="5.4"/>
<circle cx="897.15" cy="271.67" r="5.4"/>
<circle cx="901.39" cy="271.63" r="5.4"/>
<circle cx="905.63" cy="271.81" r="5.4"/>
<circle cx="909.88" cy="272.38" r="5.4"/>
<circle cx="914.12" cy="271.88" r="5.4"/>
<circle cx="918.36" cy="271.34" r="5.4"/>
<circle cx="922.6" cy="269.28" r="5.4"/>
<circle cx="926.84" cy="271.53" r="5.4"/>
<circle cx="931.08" cy="271.09" r="5.4"/>
<circle cx="935.33" cy="271.05" r="5.4"/>
<circle cx="939.57" cy="271.52" r="5.4"/>
<circle cx="943.81" cy="270.8" r="5.4"/>
<circle cx="948.05" cy="271.4" r="5.4"/>
<circle cx="952.29" cy="271.16" r="5.4"/>
<circle cx="956.53" cy="271.66" r="5.4"/>
<circle cx="960.77" cy="271.67" r="5.4"/>
<circle cx="965.02" cy="269.51" r="5.4"/>
<circle cx="969.26" cy="271.38" r="5.4"/>
<circle cx="973.5" cy="270.67" r="5.4"/>
<circle cx="977.74" cy="270.87" r="5.4"/>
<circle cx="981.98" cy="270.02" r="5.4"/>
<circle cx="986.23" cy="270.03" r="5.4"/>
<circle cx="990.47" cy="269.24" r="5.4"/>
<circle cx="994.71" cy="269.02" r="5.4"/>
<circle cx="998.95" cy="267.98" r="5.4"/>
<circle cx="1003.19" cy="267.86" r="5.4"/>
<circle cx="1007.43" cy="268.64" r="5.4"/>
<circle cx="1011.67" cy="267.09" r="5.4"/>
<circle cx="1015.92" cy="267.51" r="5.4"/>
<circle cx="1020.16" cy="267.13" r="5.4"/>
<circle cx="1024.4" cy="266.95" r="5.4"/>
<circle cx="1028.64" cy="266.25" r="5.4"/>
<circle cx="1032.88" cy="266.14" r="5.4"/>
<circle cx="1037.12" cy="264.97" r="5.4"/>
<circle cx="1041.37" cy="264.63" r="5.4"/>
<circle cx="1045.61" cy="264.45" r="5.4"/>
<circle cx="1049.85" cy="263.96" r="5.4"/>
<circle cx="1054.09" cy="263.39" r="5.4"/>
<circle cx="1058.33" cy="262.87" r="5.4"/>
<circle cx="1062.58" cy="262.91" r="5.4"/>
<circle cx="1066.82" cy="261.63" r="5.4"/>
<circle cx="1071.06" cy="262.11" r="5.4"/>
<circle cx="1075.3" cy="260.92" r="5.4"/>
<circle cx="1079.54" cy="259.92" r="5.4"/>
<circle cx="1083.78" cy="259.41" r="5.4"/>
<circle cx="1088.03" cy="257.95" r="5.4"/>
<circle cx="1092.27" cy="258.28" r="5.4"/>
<circle cx="1096.51" cy="257.46" r="5.4"/>
<circle cx="1100.75" cy="256.66" r="5.4"/>
<circle cx="1104.99" cy="255.68" r="5.4"/>
<circle cx="1109.23" cy="255.71" r="5.4"/>
<circle cx="1113.47" cy="255.02" r="5.4"/>
<circle cx="1117.72" cy="254.37" r="5.4"/>
<circle cx="1121.96" cy="254.26" r="5.4"/>
<circle cx="1126.2" cy="253.31" r="5.4"/>
<circle cx="1130.44" cy="252.38" r="5.4"/>
<circle cx="1134.68" cy="252.17" r="5.4"/>
<circle cx="1138.92" cy="251.07" r="5.4"/>
<circle cx="1143.17" cy="250.53" r="5.4"/>
<circle cx="1147.41" cy="250.82" r="5.4"/>
<circle cx="1151.65" cy="250.32" r="5.4"/>
<circle cx="1155.89" cy="249.99" r="5.4"/>
<circle cx="1160.13" cy="249.13" r="5.4"/>
<circle cx="1164.38" cy="247.94" r="5.4"/>
<circle cx="1168.62" cy="246.5" r="5.4"/>
<circle cx="1172.86" cy="246.42" r="5.4"/>
<circle cx="1177.1" cy="246.41" r="5.4"/>
<circle cx="1181.34" cy="245.47" r="5.4"/>
<circle cx="1185.58" cy="244.29" r="5.4"/>
<circle cx="1189.83" cy="241.07" r="5.4"/>
<circle cx="1194.07" cy="242.56" r="5.4"/>
<circle cx="1198.31" cy="241.91" r="5.4"/>
<circle cx="1202.55" cy="241.19" r="5.4"/>
<circle cx="1206.79" cy="241.99" r="5.4"/>
<circle cx="1211.03" cy="241.09" r="5.4"/>
<circle cx="1215.28" cy="237.32" r="5.4"/>
<circle cx="1219.52" cy="239.81" r="5.4"/>
<circle cx="1223.76" cy="238.8" r="5.4"/>
</g>
<path d="M712.75 156.61h12.5v12.6h-12.5z M716.99 157.59h12.5v12.6h-12.5z M721.23 157.11h12.5v12.6h-12.5z M725.48 157.51h12.5v12.6h-12.5z M729.72 157.87h12.5v12.6h-12.5z M733.96 157.39h12.5v12.6h-12.5z M738.2 157.6h12.5v12.6h-12.5z M742.44 157.38h12.5v12.6h-12.5z M746.68 158.09h12.5v12.6h-12.5z M750.92 158.88h12.5v12.6h-12.5z M755.17 159.58h12.5v12.6h-12.5z M759.41 160.15h12.5v12.6h-12.5z M763.65 159.86h12.5v12.6h-12.5z M767.89 159.68h12.5v12.6h-12.5z M772.13 160.23h12.5v12.6h-12.5z M776.38 161.35h12.5v12.6h-12.5z M780.62 160.65h12.5v12.6h-12.5z M784.86 161.3h12.5v12.6h-12.5z M789.1 162.34h12.5v12.6h-12.5z M793.34 161.48h12.5v12.6h-12.5z M797.58 162.71h12.5v12.6h-12.5z M801.83 163.64h12.5v12.6h-12.5z M806.07 163.08h12.5v12.6h-12.5z M810.31 161.2h12.5v12.6h-12.5z M814.55 161.4h12.5v12.6h-12.5z M818.79 164.38h12.5v12.6h-12.5z M823.03 165.41h12.5v12.6h-12.5z M827.27 166.14h12.5v12.6h-12.5z M831.52 166.39h12.5v12.6h-12.5z M835.76 166.46h12.5v12.6h-12.5z M840 166.49h12.5v12.6h-12.5z M844.24 167.37h12.5v12.6h-12.5z M848.48 167.81h12.5v12.6h-12.5z M852.73 168.73h12.5v12.6h-12.5z M856.97 170.18h12.5v12.6h-12.5z M861.21 172.08h12.5v12.6h-12.5z M865.45 172.59h12.5v12.6h-12.5z M869.69 172.46h12.5v12.6h-12.5z M873.93 173.24h12.5v12.6h-12.5z M878.17 173.17h12.5v12.6h-12.5z M882.42 173.71h12.5v12.6h-12.5z M886.66 173.82h12.5v12.6h-12.5z M890.9 174.46h12.5v12.6h-12.5z M895.14 174.26h12.5v12.6h-12.5z M899.38 174.59h12.5v12.6h-12.5z M903.62 175.17h12.5v12.6h-12.5z M907.87 174.99h12.5v12.6h-12.5z M912.11 175.91h12.5v12.6h-12.5z M916.35 175.11h12.5v12.6h-12.5z M920.59 176.13h12.5v12.6h-12.5z M924.83 175.96h12.5v12.6h-12.5z M929.08 176.26h12.5v12.6h-12.5z M933.32 176.87h12.5v12.6h-12.5z M937.56 177.05h12.5v12.6h-12.5z M941.8 177.24h12.5v12.6h-12.5z M946.04 177.03h12.5v12.6h-12.5z M950.28 177.53h12.5v12.6h-12.5z M954.52 178.77h12.5v12.6h-12.5z M958.77 178.9h12.5v12.6h-12.5z M963.01 179.54h12.5v12.6h-12.5z M967.25 180.3h12.5v12.6h-12.5z M971.49 180.32h12.5v12.6h-12.5z M975.73 179.87h12.5v12.6h-12.5z M979.98 180.69h12.5v12.6h-12.5z M984.22 181.56h12.5v12.6h-12.5z M988.46 181.53h12.5v12.6h-12.5z M992.7 183.02h12.5v12.6h-12.5z M996.94 183.45h12.5v12.6h-12.5z M1001.18 183.74h12.5v12.6h-12.5z M1005.42 183.62h12.5v12.6h-12.5z M1009.67 184.55h12.5v12.6h-12.5z M1013.91 183.96h12.5v12.6h-12.5z M1018.15 184.57h12.5v12.6h-12.5z M1022.39 185.08h12.5v12.6h-12.5z M1026.63 185.67h12.5v12.6h-12.5z M1030.88 185.48h12.5v12.6h-12.5z M1035.12 185.13h12.5v12.6h-12.5z M1039.36 185.55h12.5v12.6h-12.5z M1043.6 185.64h12.5v12.6h-12.5z M1047.84 183.3h12.5v12.6h-12.5z M1052.08 185.65h12.5v12.6h-12.5z M1056.33 186.13h12.5v12.6h-12.5z M1060.57 186.31h12.5v12.6h-12.5z M1064.81 186.89h12.5v12.6h-12.5z M1069.05 187.7h12.5v12.6h-12.5z M1073.29 186.79h12.5v12.6h-12.5z M1077.53 183.3h12.5v12.6h-12.5z M1081.78 187.4h12.5v12.6h-12.5z M1086.02 187.68h12.5v12.6h-12.5z M1090.26 189.5h12.5v12.6h-12.5z M1094.5 187.85h12.5v12.6h-12.5z M1098.74 188.2h12.5v12.6h-12.5z M1102.98 187.12h12.5v12.6h-12.5z M1107.22 188.46h12.5v12.6h-12.5z M1111.47 186.3h12.5v12.6h-12.5z M1115.71 188.26h12.5v12.6h-12.5z M1119.95 188.88h12.5v12.6h-12.5z M1124.19 188.92h12.5v12.6h-12.5z M1128.43 188.26h12.5v12.6h-12.5z M1132.67 189.12h12.5v12.6h-12.5z M1136.92 185.4h12.5v12.6h-12.5z M1141.16 188.96h12.5v12.6h-12.5z M1145.4 189.72h12.5v12.6h-12.5z M1149.64 189.3h12.5v12.6h-12.5z M1153.88 189.64h12.5v12.6h-12.5z M1158.12 189.92h12.5v12.6h-12.5z M1162.37 191.9h12.5v12.6h-12.5z M1166.61 190.13h12.5v12.6h-12.5z M1170.85 189.16h12.5v12.6h-12.5z M1175.09 189.81h12.5v12.6h-12.5z M1179.33 189.95h12.5v12.6h-12.5z M1183.58 186h12.5v12.6h-12.5z M1187.82 190.22h12.5v12.6h-12.5z M1192.06 190.41h12.5v12.6h-12.5z M1196.3 190.82h12.5v12.6h-12.5z M1200.54 191.1h12.5v12.6h-12.5z M1204.78 189.9h12.5v12.6h-12.5z M1209.03 190.36h12.5v12.6h-12.5z M1213.27 191.1h12.5v12.6h-12.5z M1217.51 190.5h12.5v12.6h-12.5z M1221.75 190.78h12.5v12.6h-12.5z" fill="#2c4a78"/>
</g>
<rect x="719" y="19.3" width="509" height="407.9" fill="none" stroke="#000" stroke-width="3.3"/>
<path d="M719 379.5 H734 M719 283.5 H734 M719 187.5 H734 M719 91.5 H734 M719 331.5 H727 M719 235.5 H727 M719 139.5 H727 M719 43.5 H727 M803.83 427.2 V412.7 M973.5 427.2 V412.7 M1143.17 427.2 V412.7 M888.67 427.2 V419.7 M1058.33 427.2 V419.7 M1228 325.07 H1213 M1228 223.15 H1213 M1228 121.22 H1213 M1228 376.04 H1220.5 M1228 274.11 H1220.5 M1228 172.19 H1220.5 M1228 70.26 H1220.5" stroke="#000" stroke-width="3.3" fill="none"/>
<g font-size="30" fill="#000">
<text transform="translate(702 388.8) scale(1 1.075)" text-anchor="end">40%</text>
<text transform="translate(702 291.9) scale(1 1.075)" text-anchor="end">60%</text>
<text transform="translate(702 195.6) scale(1 1.075)" text-anchor="end">80%</text>
<text transform="translate(702 100.6) scale(1 1.075)" text-anchor="end">100%</text>
<text transform="translate(804.63 467) scale(1 1.075)" text-anchor="middle">1530</text>
<text transform="translate(974.3 467) scale(1 1.075)" text-anchor="middle">1550</text>
<text transform="translate(1143.97 467) scale(1 1.075)" text-anchor="middle">1570</text>
<text transform="translate(1243.5 436.5) scale(1 1.075)">0</text>
<text transform="translate(1243.5 334.7) scale(1 1.075)">5</text>
<text transform="translate(1243.5 232.8) scale(1 1.075)">10</text>
<text transform="translate(1243.5 129.9) scale(1 1.075)">15</text>
<text transform="translate(1243.5 27.9) scale(1 1.075)">20</text>
<text transform="translate(973.3 517.9) scale(1 1.075)" text-anchor="middle">Wavelength (nm)</text>
<text transform="translate(611.8 222.7) rotate(-90) scale(1 1.075)" text-anchor="middle">Photon extraction efficiency</text>
<text transform="translate(1313 222.4) rotate(-90) scale(1 1.075)" text-anchor="middle">Purcell factor</text>
<text transform="translate(776.3 64.9) scale(1 1.075)">NA = 0.65</text>
<text transform="translate(776.3 101.9) scale(1 1.075)">NA = 0.4</text>
</g>
<rect x="744.9" y="48.1" width="12.4" height="12.5" fill="#2c4a78"/>
<circle cx="751" cy="90.7" r="5.35" fill="#fff" stroke="#2c4a78" stroke-width="2.8"/>
<path d="M771 140.9 H828.9" stroke="#2c4a78" stroke-width="3.7"/>
<path d="M742.4 140.9 L771.8 133.4 L771.8 148.6 Z" fill="#2c4a78"/>
<path d="M1061.2 321.2 H1116" stroke="#9c1c1c" stroke-width="3.4"/>
<path d="M1144.2 321.2 L1115.2 313.5 L1115.2 328.9 Z" fill="#9c1c1c"/>
<circle cx="1078.5" cy="104" r="70.8" fill="url(#fieldbg)" stroke="#14146a" stroke-width="0.8"/>
<ellipse cx="1078.3" cy="104" rx="24" ry="19.6" fill="url(#spot)"/>
<circle cx="1078.5" cy="104" r="28.4" fill="none" stroke="#d0d0f0" stroke-width="1"/>
<circle cx="1078.5" cy="104" r="46.5" fill="none" stroke="#d0d0f0" stroke-width="1"/>
<rect x="1158.3" y="62.4" width="17.6" height="112" fill="url(#jet)"/>
<path d="M1185.6 63.6 H1176.3 V174.7 H1185.8" fill="none" stroke="#000" stroke-width="2.5"/>
<g font-size="29" fill="#000"><text transform="translate(1190 73.5) scale(1 1.05)">1</text><text transform="translate(1190 178.7) scale(1 1.05)">0</text></g>
<g fill="#000" font-size="27.5">
<text x="1142.2" y="46.4">|</text>
<text x="1149.5" y="46.4" font-style="italic">E</text>
<text x="1167.6" y="51.9" font-style="italic" font-size="20.5">F</text>
<text x="1182.2" y="46.4">|</text>
<text x="1190" y="35.9" font-size="19">2</text>
</g>
<rect x="635" y="0" width="41" height="40.3" fill="#000"/>
<text x="638.6" y="28.4" font-size="28" fill="#fff">(b)</text>
</g>
<defs>
<radialGradient id="darkG" gradientUnits="userSpaceOnUse" cx="1686" cy="241" r="281" gradientTransform="translate(1686 241) scale(1 0.9) translate(-1686 -241)">
<stop offset="0" stop-color="#424242"/><stop offset="0.8" stop-color="#404040"/><stop offset="0.95" stop-color="#3a3a3a"/><stop offset="1" stop-color="#333333"/>
</radialGradient>
<radialGradient id="halo1" gradientUnits="userSpaceOnUse" cx="1686" cy="241" r="340" gradientTransform="translate(1686 241) scale(1 0.9) translate(-1686 -241)">
<stop offset="0.82" stop-color="#fff" stop-opacity="1"/>
<stop offset="0.836" stop-color="#fff" stop-opacity="1"/>
<stop offset="0.855" stop-color="#fff" stop-opacity="0.75"/>
<stop offset="0.88" stop-color="#fff" stop-opacity="0.35"/>
<stop offset="0.92" stop-color="#fff" stop-opacity="0.1"/>
<stop offset="1" stop-color="#fff" stop-opacity="0"/>
</radialGradient>
<radialGradient id="halo2" gradientUnits="userSpaceOnUse" cx="1716" cy="241" r="330" gradientTransform="translate(1716 241) scale(1 0.9) translate(-1716 -241)">
<stop offset="0.74" stop-color="#fff" stop-opacity="0.95"/>
<stop offset="0.8" stop-color="#fff" stop-opacity="0.7"/>
<stop offset="0.86" stop-color="#fff" stop-opacity="0.3"/>
<stop offset="0.94" stop-color="#fff" stop-opacity="0.06"/>
<stop offset="1" stop-color="#fff" stop-opacity="0"/>
</radialGradient>
<radialGradient id="halo3" gradientUnits="userSpaceOnUse" cx="1686" cy="241" r="360">
<stop offset="0.78" stop-color="#fff" stop-opacity="0.75"/>
<stop offset="0.8" stop-color="#fff" stop-opacity="0.45"/>
<stop offset="0.84" stop-color="#fff" stop-opacity="0.15"/>
<stop offset="0.9" stop-color="#fff" stop-opacity="0.03"/>
<stop offset="1" stop-color="#fff" stop-opacity="0"/>
</radialGradient>
<linearGradient id="semBg" x1="0" y1="0" x2="1" y2="1"><stop offset="0" stop-color="#b9b9b9"/><stop offset="1" stop-color="#acacac"/></linearGradient>
<filter id="lineblur" x="-5%" y="-5%" width="110%" height="110%"><feGaussianBlur stdDeviation="0.7"/></filter>
<clipPath id="upperH"><rect x="1366" y="0" width="640" height="240.75"/></clipPath>
<clipPath id="lowerH"><rect x="1366" y="240.75" width="640" height="300"/></clipPath>
</defs>
<clipPath id="semclip"><rect x="1366.5" y="30" width="630.5" height="426"/></clipPath>
<g clip-path="url(#semclip)">
<rect x="1366.5" y="30" width="630.5" height="426" fill="url(#semBg)"/>
<ellipse cx="1716" cy="241" rx="330" ry="297" fill="url(#halo2)"/>
<circle cx="1686" cy="241" r="360" fill="url(#halo3)"/>
<ellipse cx="1686" cy="241" rx="340" ry="306" fill="url(#halo1)"/>
<ellipse cx="1686" cy="241" rx="280.8" ry="253" fill="url(#darkG)"/>
<ellipse cx="1686" cy="240.75" rx="199" ry="183.55" fill="#353535"/>
<path d="M1487 240.75 a199 183.55 0 1 0 398 0 a199 183.55 0 1 0 -398 0 Z M1509.5 240.75 a176.5 156.15 0 1 0 353 0 a176.5 156.15 0 1 0 -353 0 Z" fill="#d2d2d2" fill-rule="evenodd"/>
<path d="M1488.2 233.85 a197.8 176.65 0 1 0 395.6 0 a197.8 176.65 0 1 0 -395.6 0 Z" fill="none" stroke="#a2a2a2" stroke-width="2" opacity="0.7" filter="url(#lineblur)" clip-path="url(#lowerH)"/>
<path d="M1508.9 237.55 a177.1 159.35 0 1 0 354.2 0 a177.1 159.35 0 1 0 -354.2 0 Z" fill="none" stroke="#a2a2a2" stroke-width="2" opacity="0.7" filter="url(#lineblur)" clip-path="url(#upperH)"/>
<path d="M1487.9 240.75 a198.1 182.65 0 1 0 396.2 0 a198.1 182.65 0 1 0 -396.2 0 Z" fill="none" stroke="#fafafa" stroke-width="1.9" opacity="0.95"/>
<path d="M1508.8 240.75 a177.2 156.85 0 1 0 354.4 0 a177.2 156.85 0 1 0 -354.4 0 Z" fill="none" stroke="#f4f4f4" stroke-width="1.4" opacity="0.75"/>
<path d="M1528.4 240.75 a157.6 145.9 0 1 0 315.2 0 a157.6 145.9 0 1 0 -315.2 0 Z M1550.8 240.75 a135.2 119.8 0 1 0 270.4 0 a135.2 119.8 0 1 0 -270.4 0 Z" fill="#d2d2d2" fill-rule="evenodd"/>
<path d="M1529.6 235.55 a156.4 140.7 0 1 0 312.8 0 a156.4 140.7 0 1 0 -312.8 0 Z" fill="none" stroke="#a2a2a2" stroke-width="2" opacity="0.7" filter="url(#lineblur)" clip-path="url(#lowerH)"/>
<path d="M1550.2 237.55 a135.8 123 0 1 0 271.6 0 a135.8 123 0 1 0 -271.6 0 Z" fill="none" stroke="#a2a2a2" stroke-width="2" opacity="0.7" filter="url(#lineblur)" clip-path="url(#upperH)"/>
<path d="M1529.3 240.75 a156.7 145 0 1 0 313.4 0 a156.7 145 0 1 0 -313.4 0 Z" fill="none" stroke="#fafafa" stroke-width="1.9" opacity="0.95"/>
<path d="M1550.1 240.75 a135.9 120.5 0 1 0 271.8 0 a135.9 120.5 0 1 0 -271.8 0 Z" fill="none" stroke="#f4f4f4" stroke-width="1.4" opacity="0.75"/>
<path d="M1569.8 240.75 a116.2 109.15 0 1 0 232.4 0 a116.2 109.15 0 1 0 -232.4 0 Z M1592.15 240.75 a93.85 82.2 0 1 0 187.7 0 a93.85 82.2 0 1 0 -187.7 0 Z" fill="#d2d2d2" fill-rule="evenodd"/>
<path d="M1571 236.25 a115 104.65 0 1 0 230 0 a115 104.65 0 1 0 -230 0 Z" fill="none" stroke="#a2a2a2" stroke-width="2" opacity="0.7" filter="url(#lineblur)" clip-path="url(#lowerH)"/>
<path d="M1591.55 237.75 a94.45 85.2 0 1 0 188.9 0 a94.45 85.2 0 1 0 -188.9 0 Z" fill="none" stroke="#a2a2a2" stroke-width="2" opacity="0.7" filter="url(#lineblur)" clip-path="url(#upperH)"/>
<path d="M1570.7 240.75 a115.3 108.25 0 1 0 230.6 0 a115.3 108.25 0 1 0 -230.6 0 Z" fill="none" stroke="#fafafa" stroke-width="1.9" opacity="0.95"/>
<path d="M1591.45 240.75 a94.55 82.9 0 1 0 189.1 0 a94.55 82.9 0 1 0 -189.1 0 Z" fill="none" stroke="#f4f4f4" stroke-width="1.4" opacity="0.75"/>
<path d="M1610.85 240.75 a75.15 72.3 0 1 0 150.3 0 a75.15 72.3 0 1 0 -150.3 0 Z M1633.15 240.75 a52.85 44.5 0 1 0 105.7 0 a52.85 44.5 0 1 0 -105.7 0 Z" fill="#d2d2d2" fill-rule="evenodd"/>
<path d="M1612.05 236.75 a73.95 68.3 0 1 0 147.9 0 a73.95 68.3 0 1 0 -147.9 0 Z" fill="none" stroke="#a2a2a2" stroke-width="2" opacity="0.7" filter="url(#lineblur)" clip-path="url(#lowerH)"/>
<path d="M1632.55 238.25 a53.45 47 0 1 0 106.9 0 a53.45 47 0 1 0 -106.9 0 Z" fill="none" stroke="#a2a2a2" stroke-width="2" opacity="0.7" filter="url(#lineblur)" clip-path="url(#upperH)"/>
<path d="M1611.75 240.75 a74.25 71.4 0 1 0 148.5 0 a74.25 71.4 0 1 0 -148.5 0 Z" fill="none" stroke="#fafafa" stroke-width="1.9" opacity="0.95"/>
<path d="M1632.45 240.75 a53.55 45.2 0 1 0 107.1 0 a53.55 45.2 0 1 0 -107.1 0 Z" fill="none" stroke="#f4f4f4" stroke-width="1.4" opacity="0.75"/>
<ellipse cx="1686" cy="240.75" rx="35.65" ry="35.5" fill="#d2d2d2"/>
<path d="M1651.6 235.75 a34.4 30.5 0 1 0 68.8 0 a34.4 30.5 0 1 0 -68.8 0 Z" fill="none" stroke="#a2a2a2" stroke-width="2" opacity="0.7" filter="url(#lineblur)" clip-path="url(#lowerH)"/>
<path d="M1651.1 240.75 a34.9 34.8 0 1 0 69.8 0 a34.9 34.8 0 1 0 -69.8 0 Z" fill="none" stroke="#f4f4f4" stroke-width="1.4" opacity="0.8"/>
</g>
<text x="1437.8" y="335.1" font-size="28" fill="#fff">1 μm</text>
<path d="M1452.7 344.8 V361.2 M1505.6 344.8 V361.2 M1452.7 353.3 H1505.6" stroke="#fff" stroke-width="3.3" fill="none"/>
<rect x="1347" y="0" width="41" height="40.3" fill="#000"/>
<text x="1349.6" y="28.4" font-size="28" fill="#fff">(c)</text>
</svg></body></html>
